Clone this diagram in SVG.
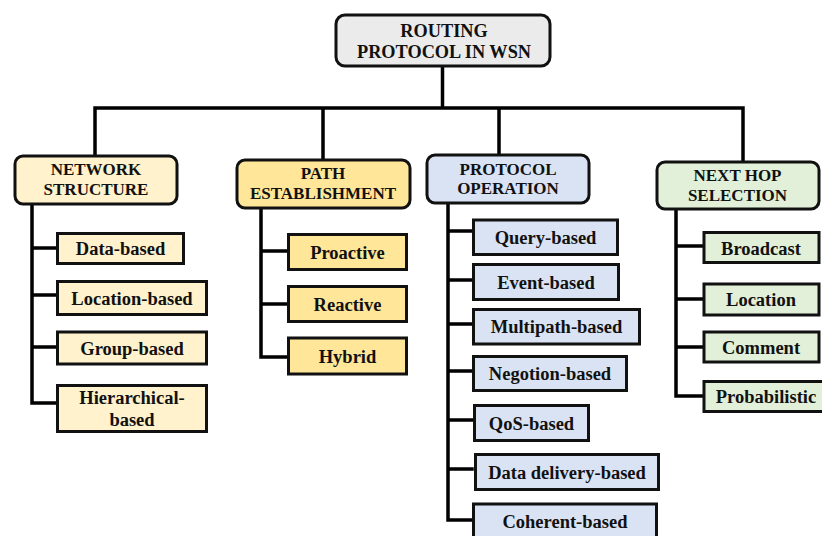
<svg xmlns="http://www.w3.org/2000/svg" width="822" height="536" viewBox="0 0 822 536">
<style>
.c{fill:none;stroke:#000;stroke-width:3.5;stroke-linejoin:miter;stroke-linecap:square}
.h{stroke:#111;stroke-width:3}
.b{stroke:#111;stroke-width:3}
text{font-family:"Liberation Serif","Times New Roman",Tinos,"Noto Serif","DejaVu Serif",FreeSerif,Times,serif;font-weight:700;fill:#111;text-anchor:middle}
.tr{font-size:18.3px}
.th{font-size:17px}
.tc{font-size:18.5px}
.gray{fill:#ebebeb}
.cream{fill:#fff2cc}
.yel{fill:#ffe699}
.blue{fill:#dae3f3}
.green{fill:#e2f0d9}
</style>
<rect width="822" height="536" fill="#fff"/>
<g id="connectors">
<path class="c" d="M442.5 66V108M95 108H743M95 108V155M323 108V159M499 108V154M743 108V161"/>
<path class="c" d="M32 204V403H56M32 248H56M32 295H56M32 347H56"/>
<path class="c" d="M261 208V357H287M261 251H287M261 304H287"/>
<path class="c" d="M448 203V520H472M448 231H472M448 280H472M448 324H472M448 371H472M448 420H472M448 469H472"/>
<path class="c" d="M676 209V396H703M676 246H703M676 299H703M676 347H703"/>
</g>
<g id="root">
<rect class="h gray" x="336" y="15" width="214" height="51" rx="9"/>
<text class="tr" x="444" y="36.5">ROUTING</text>
<text class="tr" x="444" y="58">PROTOCOL IN WSN</text>
</g>
<g id="network-structure">
<rect class="h cream" x="15" y="156" width="162" height="48" rx="8"/>
<text class="th" x="96" y="175">NETWORK</text>
<text class="th" x="96" y="195">STRUCTURE</text>
</g>
<g id="path-establishment">
<rect class="h yel" x="237" y="160" width="173" height="48" rx="8"/>
<text class="th" x="323" y="179">PATH</text>
<text class="th" x="323" y="199">ESTABLISHMENT</text>
</g>
<g id="protocol-operation">
<rect class="h blue" x="427" y="155" width="162" height="48" rx="8"/>
<text class="th" x="508" y="175">PROTOCOL</text>
<text class="th" x="508" y="194">OPERATION</text>
</g>
<g id="next-hop-selection">
<rect class="h green" x="657" y="162" width="162" height="47" rx="8"/>
<text class="th" x="737.5" y="181">NEXT HOP</text>
<text class="th" x="737.5" y="201">SELECTION</text>
</g>
<g id="data-based">
<rect class="b cream" x="57.5" y="233.5" width="126" height="30"/>
<text class="tc" x="120.5" y="255">Data-based</text>
</g>
<g id="location-based">
<rect class="b cream" x="57.5" y="281.5" width="149" height="33"/>
<text class="tc" x="132" y="304.5">Location-based</text>
</g>
<g id="group-based">
<rect class="b cream" x="57.5" y="332" width="149" height="32"/>
<text class="tc" x="132" y="354.5">Group-based</text>
</g>
<g id="hierarchical-based">
<rect class="b cream" x="57.5" y="385.5" width="149" height="46"/>
<text class="tc" x="132" y="403.5">Hierarchical-</text>
<text class="tc" x="132" y="425.5">based</text>
</g>
<g id="proactive">
<rect class="b yel" x="288.5" y="234.5" width="118" height="35"/>
<text class="tc" x="347.5" y="258.5">Proactive</text>
</g>
<g id="reactive">
<rect class="b yel" x="288.5" y="286.5" width="118" height="35"/>
<text class="tc" x="347.5" y="310.5">Reactive</text>
</g>
<g id="hybrid">
<rect class="b yel" x="288.5" y="338" width="118" height="36"/>
<text class="tc" x="347.5" y="362.5">Hybrid</text>
</g>
<g id="query-based">
<rect class="b blue" x="473.5" y="220" width="144" height="34.5"/>
<text class="tc" x="545.5" y="244">Query-based</text>
</g>
<g id="event-based">
<rect class="b blue" x="473.5" y="264.5" width="145" height="35"/>
<text class="tc" x="546" y="288.5">Event-based</text>
</g>
<g id="multipath-based">
<rect class="b blue" x="473.5" y="309.5" width="166" height="34.5"/>
<text class="tc" x="556.5" y="333">Multipath-based</text>
</g>
<g id="negotion-based">
<rect class="b blue" x="473.5" y="356.5" width="153" height="34"/>
<text class="tc" x="550" y="380">Negotion-based</text>
</g>
<g id="qos-based">
<rect class="b blue" x="474.5" y="405.5" width="114" height="35"/>
<text class="tc" x="531.5" y="429.5">QoS-based</text>
</g>
<g id="data-delivery-based">
<rect class="b blue" x="475.5" y="454.5" width="183" height="35"/>
<text class="tc" x="567" y="478.5">Data delivery-based</text>
</g>
<g id="coherent-based">
<rect class="b blue" x="473.5" y="504" width="183" height="42"/>
<text class="tc" x="565" y="528">Coherent-based</text>
</g>
<g id="broadcast">
<rect class="b green" x="704" y="232.5" width="115" height="30"/>
<text class="tc" x="761" y="254.5">Broadcast</text>
</g>
<g id="location">
<rect class="b green" x="704" y="284" width="115" height="31"/>
<text class="tc" x="761" y="306">Location</text>
</g>
<g id="comment">
<rect class="b green" x="704" y="332" width="115" height="30"/>
<text class="tc" x="761" y="353.5">Comment</text>
</g>
<g id="probabilistic">
<rect class="b green" x="704" y="381.5" width="125" height="30"/>
<text class="tc" x="766" y="403">Probabilistic</text>
</g>
</svg>
